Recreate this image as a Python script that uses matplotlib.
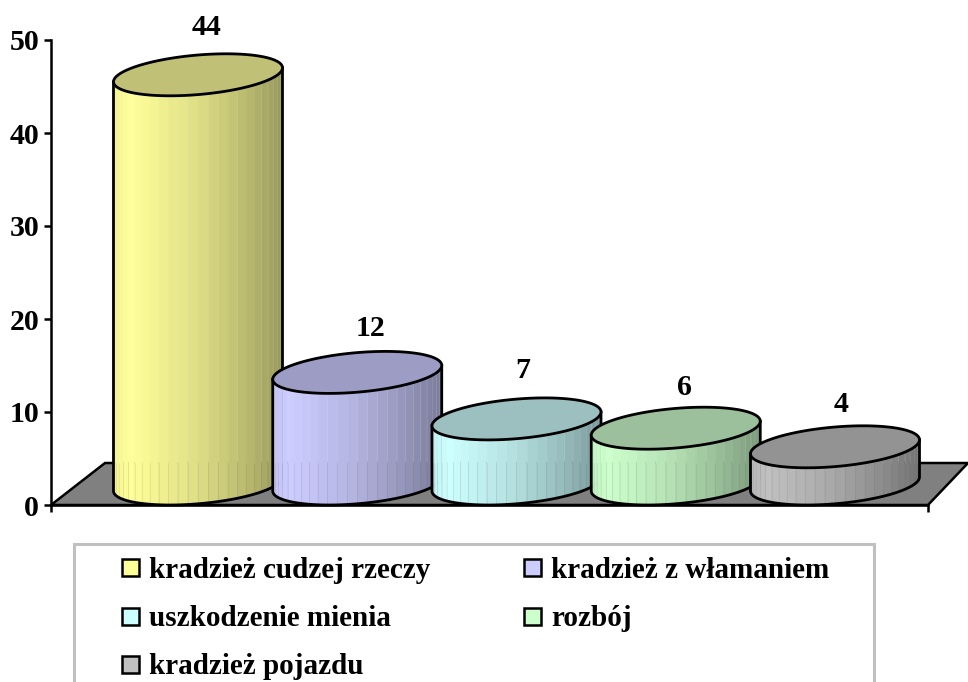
import numpy as np
import matplotlib
matplotlib.use('Agg')
import matplotlib.pyplot as plt
from matplotlib.patches import Polygon, Rectangle

categories = ['kradzież cudzej rzeczy', 'kradzież z włamaniem', 'uszkodzenie mienia',
              'rozbój', 'kradzież pojazdu']
values = [44, 12, 7, 6, 4]
y_ticks = [0, 10, 20, 30, 40, 50]

front_colors = ['#FFFF99', '#CCCCFF', '#CCFFFF', '#CCFFCC', '#C0C0C0']
top_colors = ['#C0C076', '#9C9CC4', '#9CC0C0', '#9CC09C', '#939393']

# nudges of the value labels, in pixels
label_dx = [9, 13, 6, 9, 6]
label_dy = [47, 44, 48, 41, 42]

plt.rcParams['font.family'] = ['Liberation Serif', 'DejaVu Serif']
plt.rcParams['font.weight'] = 'bold'

W, H = 968, 682
fig = plt.figure(figsize=(W / 100, H / 100), dpi=100)
ax = fig.add_axes([51 / W, (H - 505) / H, 877 / W, 465 / H])
ax.set_xlim(-0.923, 4.584)
ax.set_ylim(0, 50)

px_x = 1 / 159.25   # one pixel in x data units
px_y = 50 / 465     # one pixel in y data units
half_w = 84.5 * px_x
ell_b = 19.8 * px_y
ell_s = 7 * px_y
base = 21 * px_y
floor_back = 42 * px_y


def ellipse_xy(cx, cy, t):
    return cx + half_w * np.cos(t), cy + ell_b * np.sin(t) + ell_s * np.cos(t)


# floor
floor = Polygon([(ax.get_xlim()[0], 0), (ax.get_xlim()[0] + 54 * px_x, floor_back),
                 (ax.get_xlim()[0] + 917 * px_x, floor_back), (ax.get_xlim()[1], 0)],
                closed=True, facecolor='#808080', edgecolor='black', lw=1.8,
                clip_on=False, zorder=1, joinstyle='miter')
ax.add_patch(floor)

n_strips = 26
for i, v in enumerate(values):
    z = 3 + i
    rgb = np.array(matplotlib.colors.to_rgb(front_colors[i]))
    edges = np.linspace(np.pi, 2 * np.pi, n_strips + 1)
    for t1, t2 in zip(edges[:-1], edges[1:]):
        tt = np.linspace(t1, t2, 6)
        xb, yb = ellipse_xy(i, base, tt)
        xt, yt = ellipse_xy(i, base + v, tt)
        u = (np.cos((t1 + t2) / 2) + 1) / 2
        shade = np.interp(u, [0, 0.1, 0.2, 0.5, 0.8, 1], [0.95, 1.0, 0.97, 0.87, 0.72, 0.6])
        ax.fill(np.r_[xb, xt[::-1]], np.r_[yb, yt[::-1]], color=rgb * shade, lw=0.3,
                clip_on=False, zorder=z)
    # seams between the strips: light above the floor line, dark where the floor shows
    for t in edges[1:-1]:
        xs, ys = ellipse_xy(i, base, t)
        xe, ye = ellipse_xy(i, base + v, t)
        mid = min(max(floor_back, ys), ye)
        ax.plot([xs, xs], [ys, mid], color='#707070', alpha=0.14, lw=0.6, clip_on=False, zorder=z)
        ax.plot([xs, xs], [mid, ye], color='white', alpha=0.1, lw=0.6, clip_on=False, zorder=z)
    # outline of the side
    tt = np.linspace(np.pi, 2 * np.pi, 80)
    xb, yb = ellipse_xy(i, base, tt)
    xt, yt = ellipse_xy(i, base + v, tt)
    ax.plot(np.r_[xt[0], xb, xt[-1]], np.r_[yt[0], yb, yt[-1]], color='black', lw=2.0,
            clip_on=False, zorder=z, solid_joinstyle='round')
    # top
    tt = np.linspace(0, 2 * np.pi, 160)
    xt, yt = ellipse_xy(i, base + v, tt)
    ax.add_patch(Polygon(np.c_[xt, yt], closed=True, facecolor=top_colors[i], edgecolor='black',
                         lw=2.0, clip_on=False, zorder=z))
    ax.text(i + label_dx[i] * px_x, base + v + label_dy[i] * px_y, str(v), ha='center', va='center',
            fontsize=21.5, fontweight='bold', clip_on=False, zorder=20)

for side in ['top', 'right']:
    ax.spines[side].set_visible(False)
for side in ['left', 'bottom']:
    ax.spines[side].set_linewidth(1.8)
ax.set_yticks(y_ticks)
ax.set_xticks(ax.get_xlim())
ax.set_xticklabels([])
ax.tick_params(axis='both', direction='out', length=5, width=1.8, labelsize=21.5, pad=3.5)

# legend panel in pixel coordinates, running off the lower edge of the picture
lg = fig.add_axes([0, 0, 1, 1], facecolor='none')
lg.set_xlim(0, W)
lg.set_ylim(H, 0)
lg.axis('off')
lg.add_patch(Rectangle((74, 544), 800, 160, facecolor='white', edgecolor='#C0C0C0', lw=2.2))
swatch_x = [122, 524]
rows = [567, 616, 664]
for k, name in enumerate(categories):
    col = k % 2
    y = rows[k // 2]
    lg.add_patch(Rectangle((swatch_x[col], y - 8), 17, 17, facecolor=front_colors[k],
                           edgecolor='black', lw=1.8))
    lg.text(swatch_x[col] + 27, y, name, ha='left', va='center_baseline', fontsize=21,
            fontweight='bold')

fig.savefig('out.png', dpi=100)
